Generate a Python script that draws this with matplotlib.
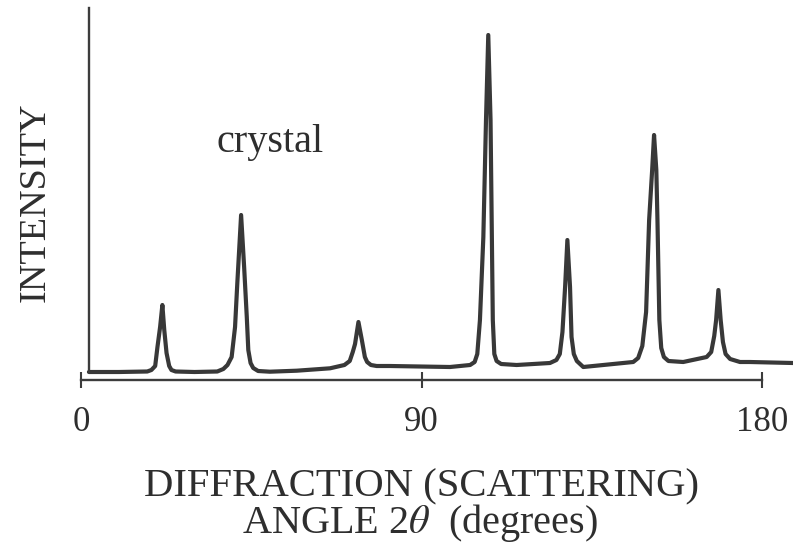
import matplotlib
matplotlib.use("Agg")
import matplotlib.pyplot as plt

# Traced diffraction pattern (angle 2theta in degrees, intensity in arbitrary units)
angle = [2.1, 10.0, 17.5, 18.6, 19.6, 20.2, 20.9, 21.5, 22.0, 22.6, 23.3, 23.9, 25.0, 30.0,
         36.0, 37.6, 38.7, 39.8, 40.7, 41.3, 42.3, 43.1, 43.8, 44.2, 44.8, 45.5, 46.8, 49.9,
         57.0, 65.8, 69.6, 71.0, 71.8, 72.4, 73.3, 74.2, 75.0, 75.6, 76.6, 78.1, 81.6, 97.5,
         102.8, 104.0, 104.7, 105.4, 106.3, 107.0, 107.6, 108.2, 108.5, 108.8, 109.2, 109.8, 111.0,
         115.1, 123.9, 125.6, 126.5, 127.2, 127.9, 128.5, 129.2, 129.6, 130.2, 131.0, 132.7, 145.9,
         147.2, 148.3, 149.3, 150.1, 150.9, 151.4, 152.0, 152.3, 152.8, 153.3, 154.0, 155.2, 159.1,
         165.3, 166.5, 167.3, 167.8, 168.4, 169.0, 169.6, 170.3, 171.5, 174.1, 176.7, 188.1]
intensity = [0, 0, 0.5, 2, 6, 25, 45, 67, 42, 19, 6, 2, 0.5, 0,
             0.5, 3, 7, 15, 45, 89, 157, 105, 55, 22, 9, 4, 1, 0.3,
             1.3, 3.7, 7, 11, 20, 28, 50, 32, 15, 10, 7, 6, 6, 5,
             7, 10, 18, 52, 135, 252, 337, 252, 152, 52, 18, 11, 8,
             7, 9, 12, 18, 40, 85, 132, 85, 35, 18, 11, 5, 10,
             14, 26, 60, 152, 202, 237, 202, 152, 52, 24, 15, 11, 10,
             15, 20, 36, 52, 82, 52, 30, 18, 13, 10, 10, 9]

x_ticks = [0, 90, 180]
x_ticklabels = ["0", "90", "180"]

serif = ["Liberation Serif", "DejaVu Serif"]
plt.rcParams["font.family"] = serif
plt.rcParams["mathtext.fontset"] = "stix"

W, H = 793, 543
fig = plt.figure(figsize=(W / 100, H / 100), dpi=100)
fig.patch.set_facecolor("white")

# axes: left at px 81, right at px 793; bottom at px 380, top at px 8
ax = fig.add_axes([81 / W, (H - 380) / H, (793 - 81) / W, 372 / H])
ax.set_xlim(0, (793 - 81) / 3.785)
ax.set_ylim(-8, 364)
ax.set_facecolor("white")

line_color = "#383838"
ax.plot(angle, intensity, color=line_color, lw=3.0, solid_joinstyle="round",
        solid_capstyle="round", clip_on=False)

axis_color = "#3c3c3c"
for s in ["top", "right"]:
    ax.spines[s].set_visible(False)
ax.spines["bottom"].set_bounds(0, 180)
ax.spines["bottom"].set_color(axis_color)
ax.spines["bottom"].set_linewidth(1.7)
ax.spines["left"].set_position(("data", 2.1))
ax.spines["left"].set_bounds(0, 364)
ax.spines["left"].set_color(axis_color)
ax.spines["left"].set_linewidth(1.7)

ax.set_xticks(x_ticks)
ax.set_xticklabels(x_ticklabels)
ax.tick_params(axis="x", direction="inout", length=12, width=1.5, color=axis_color,
               labelsize=25, pad=13, labelcolor="#2e2e2e")
ax.set_yticks([])

text_color = "#2e2e2e"
ax.text(35.9, 220, "crystal", fontsize=29, color=text_color, ha="left", va="baseline")

fig.text(422 / W, 1 - 487 / H, "DIFFRACTION (SCATTERING)", fontsize=29.3,
         color=text_color, ha="center", va="center")
fig.text(420 / W, 1 - 523 / H, r"ANGLE 2$\theta$  (degrees)", fontsize=29,
         color=text_color, ha="center", va="center")
fig.text(35 / W, 1 - 202 / H, "INTENSITY", fontsize=27.5, color=text_color,
         ha="center", va="center", rotation=90)

fig.savefig("out.png", dpi=100, facecolor="white")
